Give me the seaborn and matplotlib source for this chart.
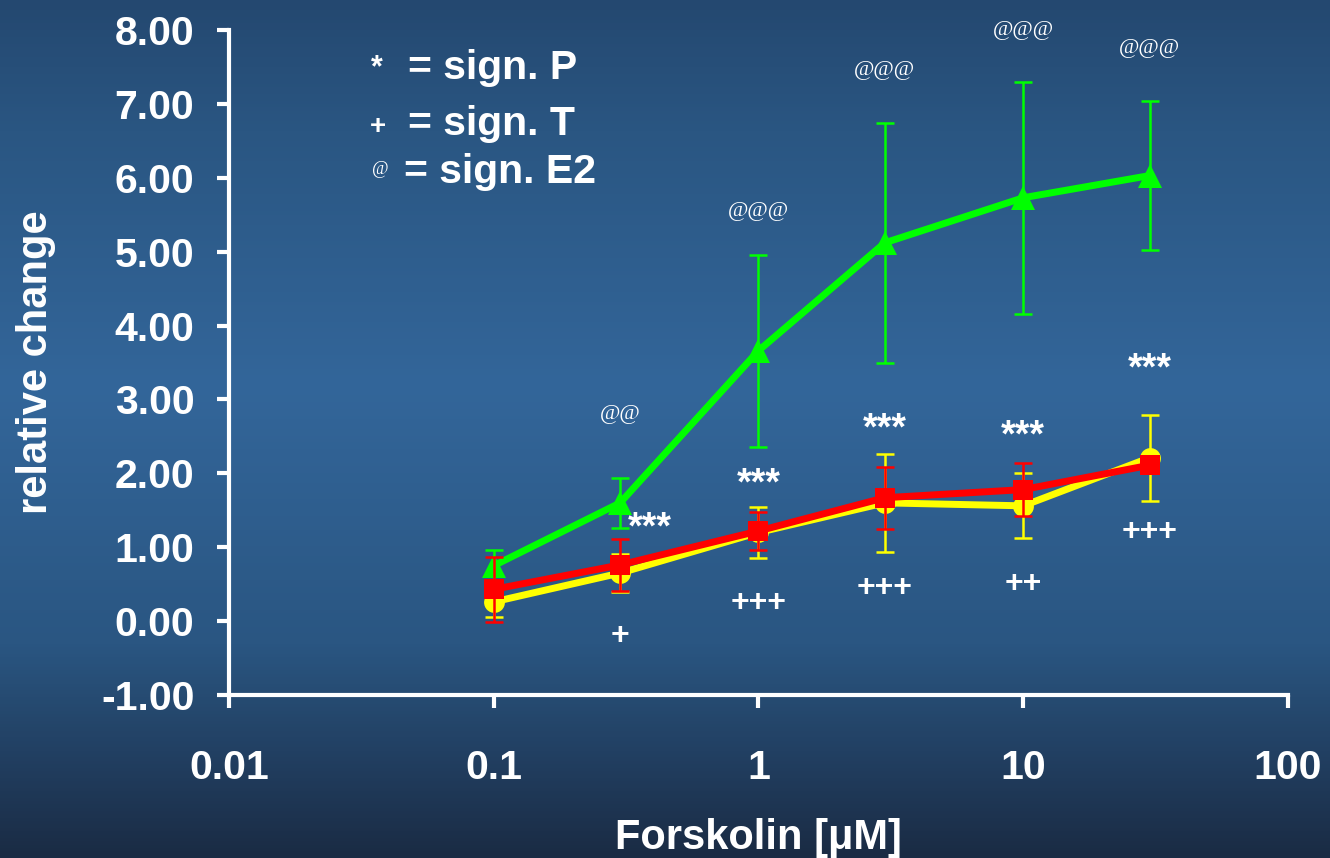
import numpy as np
import pandas as pd
import seaborn as sns
from matplotlib import pyplot as plt
from matplotlib.colors import LinearSegmentedColormap

# concentrations (uM)
conc = [0.1, 0.3, 1, 3, 10, 30]

# mean relative change per group
e2_mean = [0.75, 1.60, 3.66, 5.12, 5.73, 6.03]
p_mean = [0.26, 0.65, 1.20, 1.60, 1.56, 2.21]
t_mean = [0.43, 0.76, 1.22, 1.67, 1.78, 2.11]

# error bar half widths
e2_err = [0.21, 0.34, 1.30, 1.62, 1.57, 1.01]
p_err = [0.20, 0.26, 0.34, 0.66, 0.44, 0.58]
t_err = [0.44, 0.35, 0.26, 0.42, 0.36, 0.08]

# significance marks above / below each point
at_marks = ['', '@@', '@@@', '@@@', '@@@', '@@@']
at_y = [None, 2.8, 5.55, 7.45, 8.0, 7.75]
star_marks = ['', '***', '***', '***', '***', '***']
star_y = [None, 1.25, 1.85, 2.6, 2.5, 3.4]
plus_marks = ['', '+', '+++', '+++', '++', '+++']
plus_y = [None, -0.2, 0.25, 0.45, 0.5, 1.2]

group_names = ['P', 'E2', 'T']
colors = {'P': '#ffff00', 'E2': '#00ff00', 'T': '#ff0000'}
markers = {'P': 'o', 'E2': '^', 'T': 's'}

df = pd.DataFrame({
    'conc': conc * 3,
    'value': p_mean + e2_mean + t_mean,
    'group': ['P'] * 6 + ['E2'] * 6 + ['T'] * 6,
})
errs = {'P': p_err, 'E2': e2_err, 'T': t_err}

sns.set_style('ticks')
plt.rcParams['font.family'] = ['Liberation Sans', 'DejaVu Sans']

fig = plt.figure(figsize=(13.3, 8.58), dpi=100)

# gradient background
bg = fig.add_axes([0, 0, 1, 1], zorder=-10)
cmap = LinearSegmentedColormap.from_list(
    'bgblue', [(0.0, '#1a2b44'), (0.25, '#2a5682'), (0.55, '#33669a'), (0.85, '#2a5682'), (1.0, '#244870')])
grad = np.linspace(0, 1, 256).reshape(-1, 1)
bg.imshow(grad, aspect='auto', cmap=cmap, origin='lower', extent=[0, 1, 0, 1])
bg.axis('off')

ax = fig.add_axes([0.1722, 0.19, 0.7962, 0.775])
ax.patch.set_alpha(0)

for i, g in enumerate(group_names):
    sub = df[df.group == g]
    z = {'P': 3, 'E2': 4, 'T': 5}[g]
    ax.errorbar(sub.conc, sub.value, yerr=errs[g], fmt='none', ecolor=colors[g],
                elinewidth=1.8, capsize=6.5, capthick=1.8, zorder=z)
    sns.lineplot(data=sub, x='conc', y='value', color=colors[g], marker=markers[g],
                 markersize=15 if g != 'E2' else 17, markeredgewidth=0, linewidth=5,
                 ax=ax, zorder=z + 0.5, legend=False)

ax.set_xscale('log')
ax.set_xlim(0.01, 100)
ax.set_ylim(-1, 8)
ax.set_xticks([0.01, 0.1, 1, 10, 100])
ax.set_xticklabels(['0.01', '0.1', '1', '10', '100'])
ax.minorticks_off()
ax.set_yticks(np.arange(-1, 9, 1))
ax.set_yticklabels([f'{v:.2f}' for v in np.arange(-1, 9, 1)])

for side in ['top', 'right']:
    ax.spines[side].set_visible(False)
for side in ['left', 'bottom']:
    ax.spines[side].set_color('white')
    ax.spines[side].set_linewidth(3)
ax.tick_params(axis='both', colors='white', width=3, length=9, labelsize=29.5)
ax.tick_params(axis='x', pad=30)
ax.tick_params(axis='y', pad=16)
for lab in ax.get_xticklabels() + ax.get_yticklabels():
    lab.set_fontweight('bold')

ax.set_xlabel('Forskolin [\u03bcM]', fontsize=30, fontweight='bold', color='white', labelpad=22)
ax.set_ylabel('relative change', fontsize=30, fontweight='bold', color='white', labelpad=32)

# significance annotations
for x, m, y in zip(conc, at_marks, at_y):
    if m:
        ax.text(x, y, m, ha='center', va='center', fontsize=16, color='white',
                family=['Liberation Serif', 'DejaVu Serif'])
for i, (x, m, y) in enumerate(zip(conc, star_marks, star_y)):
    if m:
        xx = x * 1.3 if i == 1 else x
        ax.text(xx, y, m, ha='center', va='center', fontsize=27, color='white', fontweight='bold')
for x, m, y in zip(conc, plus_marks, plus_y):
    if m:
        ax.text(x, y, m, ha='center', va='center', fontsize=23, color='white', fontweight='bold')

# legend text
fig.text(0.283, 0.921, '*', fontsize=22, color='white', fontweight='bold', ha='center', va='center')
fig.text(0.307, 0.921, '= sign. P', fontsize=29.5, color='white', fontweight='bold', va='center')
fig.text(0.284, 0.852, '+', fontsize=20, color='white', fontweight='bold', ha='center', va='center')
fig.text(0.307, 0.855, '= sign. T', fontsize=29.5, color='white', fontweight='bold', va='center')
fig.text(0.286, 0.802, '@', fontsize=13, color='white', ha='center', va='center',
         family=['Liberation Serif', 'DejaVu Serif'])
fig.text(0.304, 0.799, '= sign. E2', fontsize=29.5, color='white', fontweight='bold', va='center')

plt.savefig('out.png', dpi=100)
